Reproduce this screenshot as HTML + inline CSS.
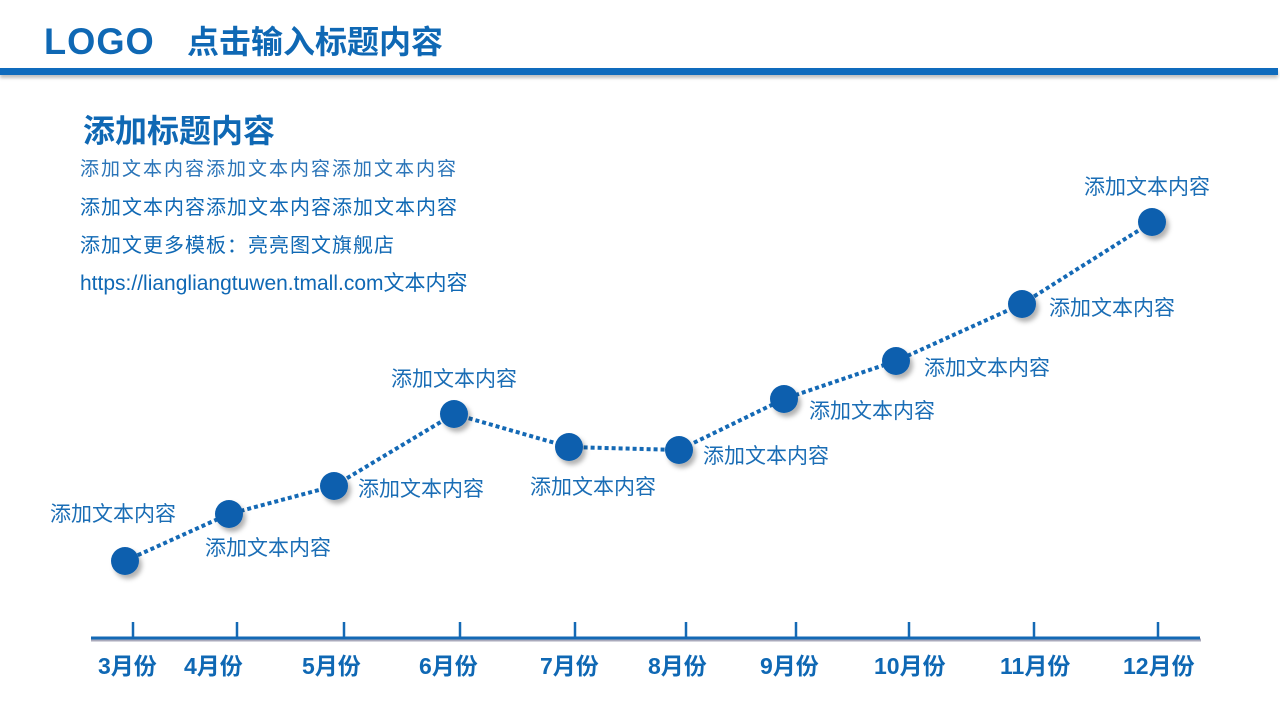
<!DOCTYPE html>
<html><head><meta charset="utf-8"><style>
body{margin:0;width:1280px;height:720px;background:#fff;overflow:hidden;position:relative;font-family:"Liberation Sans","Noto Sans CJK SC",sans-serif;color:#0f68b4}
.a{position:absolute;white-space:nowrap}
.lab{font-size:21px;color:#1a6db5;line-height:1}
.m{font-size:23px;font-weight:bold;color:#0f68b4;line-height:1}
</style></head><body>
<div class="a" style="left:44px;top:22px;font-size:37px;line-height:40px;letter-spacing:1px;font-weight:bold;transform:scaleX(0.98);transform-origin:left">LOGO</div>
<div class="a" style="left:187px;top:23px;font-size:32px;font-weight:bold;line-height:38px">点击输入标题内容</div>
<div class="a" style="left:0;top:68px;width:1278px;height:7px;background:#0f6bbd;box-shadow:0 3px 3px rgba(0,0,0,0.25)"></div>
<div class="a" style="left:83px;top:113px;font-size:32px;font-weight:bold;line-height:36px">添加标题内容</div>
<div class="a" style="left:80px;top:159px;font-size:19px;line-height:22px;letter-spacing:2px;color:#2a74b8">添加文本内容添加文本内容添加文本内容</div>
<div class="a" style="left:80px;top:197px;font-size:20px;line-height:22px;letter-spacing:1px">添加文本内容添加文本内容添加文本内容</div>
<div class="a" style="left:80px;top:235px;font-size:20px;line-height:22px;letter-spacing:1px">添加文更多模板：亮亮图文旗舰店</div>
<div class="a" style="left:80px;top:273px;font-size:21px;line-height:22px">https://liangliangtuwen.tmall.com文本内容</div>
<svg class="a" style="left:0;top:0" width="1280" height="720">
<defs><filter id="s" x="-50%" y="-50%" width="200%" height="200%"><feDropShadow dx="3" dy="4" stdDeviation="2.5" flood-color="#000" flood-opacity="0.3"/></filter></defs>
<line x1="91" y1="640" x2="1201" y2="640" stroke="#aab" stroke-width="3"/>
<line x1="91" y1="638" x2="1200" y2="638" stroke="#1469b5" stroke-width="3"/>
<g stroke="#1469b5" stroke-width="2.5">
<line x1="133" y1="622" x2="133" y2="638"/><line x1="237" y1="622" x2="237" y2="638"/><line x1="344" y1="622" x2="344" y2="638"/><line x1="460" y1="622" x2="460" y2="638"/><line x1="575" y1="622" x2="575" y2="638"/><line x1="686" y1="622" x2="686" y2="638"/><line x1="796" y1="622" x2="796" y2="638"/><line x1="909" y1="622" x2="909" y2="638"/><line x1="1034" y1="622" x2="1034" y2="638"/><line x1="1158" y1="622" x2="1158" y2="638"/>
</g>
<polyline points="125,561 229,514 334,486 454,414 569,447 679,450 784,399 896,361 1022,304 1152,222" fill="none" stroke="#1469b5" stroke-width="4" stroke-dasharray="4,3"/>
<g fill="#0a5eae" filter="url(#s)">
<circle cx="125" cy="561" r="14"/><circle cx="229" cy="514" r="14"/><circle cx="334" cy="486" r="14"/><circle cx="454" cy="414" r="14"/><circle cx="569" cy="447" r="14"/><circle cx="679" cy="450" r="14"/><circle cx="784" cy="399" r="14"/><circle cx="896" cy="361" r="14"/><circle cx="1022" cy="304" r="14"/><circle cx="1152" cy="222" r="14"/>
</g>
</svg>
<div class="a lab" style="left:50px;top:504px">添加文本内容</div>
<div class="a lab" style="left:205px;top:538px">添加文本内容</div>
<div class="a lab" style="left:358px;top:479px">添加文本内容</div>
<div class="a lab" style="left:391px;top:369px">添加文本内容</div>
<div class="a lab" style="left:530px;top:477px">添加文本内容</div>
<div class="a lab" style="left:703px;top:446px">添加文本内容</div>
<div class="a lab" style="left:809px;top:401px">添加文本内容</div>
<div class="a lab" style="left:924px;top:358px">添加文本内容</div>
<div class="a lab" style="left:1049px;top:298px">添加文本内容</div>
<div class="a lab" style="left:1084px;top:177px">添加文本内容</div>
<div class="a m" style="left:98px;top:655px">3月份</div>
<div class="a m" style="left:184px;top:655px">4月份</div>
<div class="a m" style="left:302px;top:655px">5月份</div>
<div class="a m" style="left:419px;top:655px">6月份</div>
<div class="a m" style="left:540px;top:655px">7月份</div>
<div class="a m" style="left:648px;top:655px">8月份</div>
<div class="a m" style="left:760px;top:655px">9月份</div>
<div class="a m" style="left:874px;top:655px">10月份</div>
<div class="a m" style="left:1000px;top:655px">11月份</div>
<div class="a m" style="left:1123px;top:655px">12月份</div>
</body></html>
